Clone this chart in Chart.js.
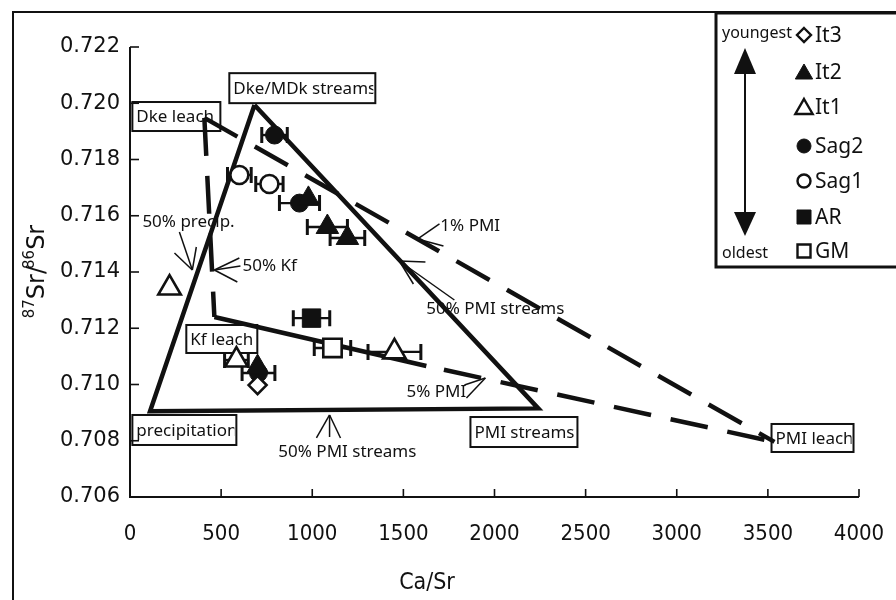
<!DOCTYPE html>
<html><head><meta charset="utf-8">
<script src="https://cdn.jsdelivr.net/npm/chart.js@4"></script>
<style>html,body{margin:0;padding:0;background:#fff}canvas{display:block}</style>
</head><body>
<canvas id="c" width="896" height="600"></canvas>
<script>
// ---------- data ----------
const xTicks = [0, 500, 1000, 1500, 2000, 2500, 3000, 3500, 4000];
const yTicks = [0.706, 0.708, 0.710, 0.712, 0.714, 0.716, 0.718, 0.720, 0.722];

const it3X = [700],              it3Y = [0.70998],                      it3E = [0];
const it2X = [979, 1083, 1193, 700], it2Y = [0.7166, 0.7156, 0.71521, 0.71062], it2E = [0, 110, 95, 0];
const it1X = [217, 584, 1451],   it1Y = [0.71343, 0.71087, 0.71116],    it1E = [0, 65, 145];
const sag2X = [793, 930, 705],   sag2Y = [0.71887, 0.71645, 0.71041],   sag2E = [70, 110, 90];
const sag1X = [600, 765],        sag1Y = [0.71745, 0.71713],            sag1E = [65, 75];
const arX = [996],               arY = [0.71236],                       arE = [100];
const gmX = [1111],              gmY = [0.7113],                        gmE = [100];

// mixing lines / end-member polygon
const triX = [683, 2240, 110, 683],  triY = [0.71994, 0.70915, 0.70905, 0.71994];
const dkeKfX = [408, 463],           dkeKfY = [0.71948, 0.7124];
const kfPmiX = [463, 1626, 3536],    kfPmiY = [0.7124, 0.71066, 0.70796];
const dkePmiX = [408, 3536],         dkePmiY = [0.71948, 0.70796];

// end-member labels (anchor = top-left corner, data units)
const boxLabels = ['Dke/MDk streams', 'Dke leach', 'Kf leach', 'precipitation', 'PMI streams', 'PMI leach'];
const boxX = [545, 13, 309, 13, 1868, 3520];
const boxY = [0.72107, 0.720044, 0.712116, 0.708916, 0.708844, 0.708596];
const boxW = [146, 88, 71, 104, 107, 82];
const boxH = [30, 29, 28, 30, 30, 28];

// mixing-percentage notes (left, middle; data units)
const noteLabels = ['50% precip.', '50% Kf', '1% PMI', '50% PMI streams', '5% PMI', '50% PMI streams'];
const noteX = [68, 617, 1703, 1626, 1517, 814];
const noteY = [0.715778, 0.714213, 0.715636, 0.712684, 0.709733, 0.7076];

// arrow strokes for notes [x0,y0,x1,y1] in data units
const arrowSegs = [
  [1698, 0.715707, 1577, 0.715173], [1577, 0.715173, 1720, 0.714924],
  [1780, 0.713004, 1478, 0.714391], [1478, 0.714391, 1621, 0.714356], [1478, 0.714391, 1555, 0.713573],
  [1846, 0.709520, 1950, 0.710231], [1835, 0.709982, 1950, 0.710231],
  [1095, 0.708916, 1023, 0.708098], [1095, 0.708916, 1155, 0.708098], [1095, 0.708916, 1095, 0.708133],
  [271, 0.715422, 342, 0.714071], [244, 0.714676, 342, 0.714071], [364, 0.714889, 342, 0.714071],
  [606, 0.714213, 463, 0.714071], [600, 0.714498, 463, 0.714071], [589, 0.713644, 463, 0.714071]
];

const legendLabels = ['It3', 'It2', 'It1', 'Sag2', 'Sag1', 'AR', 'GM'];

// ---------- helpers ----------
const INK = '#111';
const pts = (xs, ys) => xs.map((x, i) => ({x: x, y: ys[i]}));
const DASH = [38, 20];

function lineDS(xs, ys, dash, seg) {
  const d = {
    data: pts(xs, ys), showLine: true, pointRadius: 0, borderColor: INK,
    borderWidth: 4.5, borderDash: dash || [], borderCapStyle: 'butt', borderJoinStyle: 'miter',
    fill: false, tension: 0, order: 10
  };
  if (seg) d.segment = seg;
  return d;
}
function markDS(xs, ys, style, r, filled) {
  return {
    data: pts(xs, ys), pointStyle: style, pointRadius: r, pointHoverRadius: r,
    backgroundColor: filled ? INK : '#fff', borderColor: INK, borderWidth: filled ? 1 : 2.6,
    showLine: false, order: 0
  };
}

const errSeries = [
  [it2X, it2Y, it2E], [it1X, it1Y, it1E], [sag2X, sag2Y, sag2E],
  [sag1X, sag1Y, sag1E], [arX, arY, arE], [gmX, gmY, gmE], [it3X, it3Y, it3E]
];

function drawMarker(ctx, style, x, y, r, filled) {
  ctx.save();
  ctx.beginPath();
  if (style === 'circle') ctx.arc(x, y, r, 0, Math.PI * 2);
  else if (style === 'triangle') {
    ctx.moveTo(x, y - r); ctx.lineTo(x + r * 0.866, y + r * 0.5); ctx.lineTo(x - r * 0.866, y + r * 0.5);
    ctx.closePath();
  } else if (style === 'rect') ctx.rect(x - r, y - r, 2 * r, 2 * r);
  else if (style === 'rectRot') {
    ctx.moveTo(x, y - r); ctx.lineTo(x + r, y); ctx.lineTo(x, y + r); ctx.lineTo(x - r, y); ctx.closePath();
  }
  ctx.fillStyle = filled ? INK : '#fff';
  ctx.fill();
  ctx.lineWidth = filled ? 1 : 2.4;
  ctx.strokeStyle = INK;
  ctx.stroke();
  ctx.restore();
}

const decor = {
  id: 'decor',
  beforeDatasetsDraw(chart) {
    const ctx = chart.ctx, xs = chart.scales.x, ys = chart.scales.y;
    const X = v => xs.getPixelForValue(v), Y = v => ys.getPixelForValue(v);
    ctx.save();
    // outer frame
    ctx.strokeStyle = INK; ctx.lineWidth = 2;
    ctx.beginPath(); ctx.moveTo(13, 600); ctx.lineTo(13, 12); ctx.lineTo(896, 12); ctx.stroke();
    // axes
    const x0 = X(0), x1 = X(4000), y0 = Y(0.706), y1 = Y(0.722);
    ctx.beginPath(); ctx.moveTo(x0, y1); ctx.lineTo(x0, y0); ctx.lineTo(x1, y0); ctx.stroke();
    ctx.lineWidth = 1.6;
    yTicks.forEach(v => { ctx.beginPath(); ctx.moveTo(x0, Y(v)); ctx.lineTo(x0 + 9, Y(v)); ctx.stroke(); });
    xTicks.forEach(v => { ctx.beginPath(); ctx.moveTo(X(v), y0); ctx.lineTo(X(v), y0 - 8); ctx.stroke(); });

    // axis titles
    ctx.fillStyle = INK;
    ctx.font = '23px "DejaVu Sans Condensed", "DejaVu Sans", sans-serif';
    ctx.textAlign = 'center'; ctx.textBaseline = 'alphabetic';
    ctx.fillText('Ca/Sr', 427, 589);
    // y title with superscripts
    ctx.save();
    ctx.translate(44, 270); ctx.rotate(-Math.PI / 2);
    const parts = [['87', true], ['Sr/', false], ['86', true], ['Sr', false]];
    const bigF = '24px "DejaVu Sans", sans-serif', supF = '15px "DejaVu Sans", sans-serif';
    let w = 0;
    parts.forEach(p => { ctx.font = p[1] ? supF : bigF; w += ctx.measureText(p[0]).width; });
    let cx = -w / 2;
    ctx.textAlign = 'left';
    parts.forEach(p => {
      ctx.font = p[1] ? supF : bigF;
      ctx.fillText(p[0], cx, p[1] ? -10 : 0);
      cx += ctx.measureText(p[0]).width - (p[0] === 'Sr/' ? 3 : 0);
    });
    ctx.restore();

    // end-member boxes
    ctx.font = '17px "Noto Sans", sans-serif';
    ctx.textAlign = 'left'; ctx.textBaseline = 'middle';
    ctx.lineWidth = 2;
    boxLabels.forEach((t, i) => {
      const bx = X(boxX[i]), by = Y(boxY[i]);
      ctx.strokeRect(bx, by, boxW[i], boxH[i]);
      ctx.save();
      ctx.beginPath(); ctx.rect(bx + 1, by + 1, boxW[i] - 3, boxH[i] - 2); ctx.clip();
      ctx.fillText(t, bx + 4, by + boxH[i] / 2 + 1);
      ctx.restore();
    });
    // notes
    noteLabels.forEach((t, i) => ctx.fillText(t, X(noteX[i]), Y(noteY[i])));
    ctx.lineWidth = 1.5;
    arrowSegs.forEach(s => {
      ctx.beginPath(); ctx.moveTo(X(s[0]), Y(s[1])); ctx.lineTo(X(s[2]), Y(s[3])); ctx.stroke();
    });

    // error bars
    ctx.lineWidth = 2.4;
    errSeries.forEach(([sx, sy, se]) => {
      sx.forEach((xv, i) => {
        if (!se[i]) return;
        const a = X(xv - se[i]), b = X(xv + se[i]), yy = Y(sy[i]);
        ctx.beginPath(); ctx.moveTo(a, yy); ctx.lineTo(b, yy); ctx.stroke();
        ctx.lineWidth = 3;
        ctx.beginPath(); ctx.moveTo(a, yy - 8); ctx.lineTo(a, yy + 8); ctx.moveTo(b, yy - 8); ctx.lineTo(b, yy + 8); ctx.stroke();
        ctx.lineWidth = 2.4;
      });
    });
    ctx.restore();
  },
  afterDraw(chart) {
    const ctx = chart.ctx;
    ctx.save();
    // legend box
    ctx.strokeStyle = INK; ctx.lineWidth = 3;
    ctx.strokeRect(716, 13, 184, 254);
    // age arrow
    ctx.lineWidth = 2;
    ctx.beginPath(); ctx.moveTo(745, 70); ctx.lineTo(745, 222); ctx.stroke();
    ctx.fillStyle = INK;
    ctx.beginPath(); ctx.moveTo(745, 48); ctx.lineTo(756, 74); ctx.lineTo(734, 74); ctx.closePath(); ctx.fill();
    ctx.beginPath(); ctx.moveTo(745, 236); ctx.lineTo(756, 212); ctx.lineTo(734, 212); ctx.closePath(); ctx.fill();
    ctx.font = '16px "Noto Sans", sans-serif';
    ctx.textAlign = 'left'; ctx.textBaseline = 'middle';
    ctx.fillText('youngest', 722, 33);
    ctx.fillText('oldest', 722, 253);
    const styles = [['rectRot', 7, false], ['triangle', 10, true], ['triangle', 10, false], ['circle', 7, true],
                    ['circle', 6.5, false], ['rect', 7, true], ['rect', 6.5, false]];
    const ly = [35, 72, 107, 146, 181, 217, 251];
    ctx.font = '21px "Noto Sans", sans-serif';
    legendLabels.forEach((t, i) => {
      drawMarker(ctx, styles[i][0], 804, ly[i] + (styles[i][0] === 'triangle' ? 2 : 0), styles[i][1], styles[i][2]);
      ctx.fillStyle = INK;
      ctx.fillText(t, 815, ly[i] + 1);
    });
    ctx.restore();
  }
};

new Chart(document.getElementById('c'), {
  type: 'scatter',
  data: {
    datasets: [
      lineDS(triX, triY),
      lineDS(dkeKfX, dkeKfY, DASH),
      lineDS(kfPmiX, kfPmiY, [], {
        borderDash: c => c.p0DataIndex >= 1 ? DASH : [],
        borderDashOffset: c => c.p0DataIndex >= 1 ? 40 : 0
      }),
      lineDS(dkePmiX, dkePmiY, DASH),
      markDS(sag1X, sag1Y, 'circle', 9, false),
      markDS(gmX, gmY, 'rect', 13, false),
      markDS(it1X, it1Y, 'triangle', 13, false),
      markDS(it3X, it3Y, 'rectRot', 9, false),
      markDS(arX, arY, 'rect', 13, true),
      markDS(it2X, it2Y, 'triangle', 13, true),
      markDS(sag2X, sag2Y, 'circle', 9, true)
    ]
  },
  options: {
    responsive: false, animation: false, devicePixelRatio: 1,
    layout: { padding: { left: 0, top: 47, right: 37, bottom: 0 } },
    plugins: { legend: { display: false }, tooltip: { enabled: false } },
    events: [],
    scales: {
      x: {
        type: 'linear', min: 0, max: 4000,
        afterBuildTicks: s => { s.ticks = xTicks.map(v => ({ value: v })); },
        afterFit: s => { s.height = 103; s.paddingLeft = 0; s.paddingRight = 0; },
        grid: { display: false, drawTicks: false }, border: { display: false },
        ticks: { padding: 24, color: INK, maxRotation: 0, autoSkip: false, callback: v => String(v),
                 font: { family: '"DejaVu Sans Condensed", "DejaVu Sans", sans-serif', size: 22 } }
      },
      y: {
        type: 'linear', min: 0.706, max: 0.722,
        afterBuildTicks: s => { s.ticks = yTicks.map(v => ({ value: v })); },
        afterFit: s => { s.width = 130; s.paddingTop = 0; s.paddingBottom = 0; },
        grid: { display: false, drawTicks: false }, border: { display: false },
        ticks: { padding: 10, color: INK, autoSkip: false, callback: v => Number(v).toFixed(3),
                 font: { family: '"DejaVu Sans", sans-serif', size: 21 } }
      }
    }
  },
  plugins: [decor]
});
</script>
</body></html>
